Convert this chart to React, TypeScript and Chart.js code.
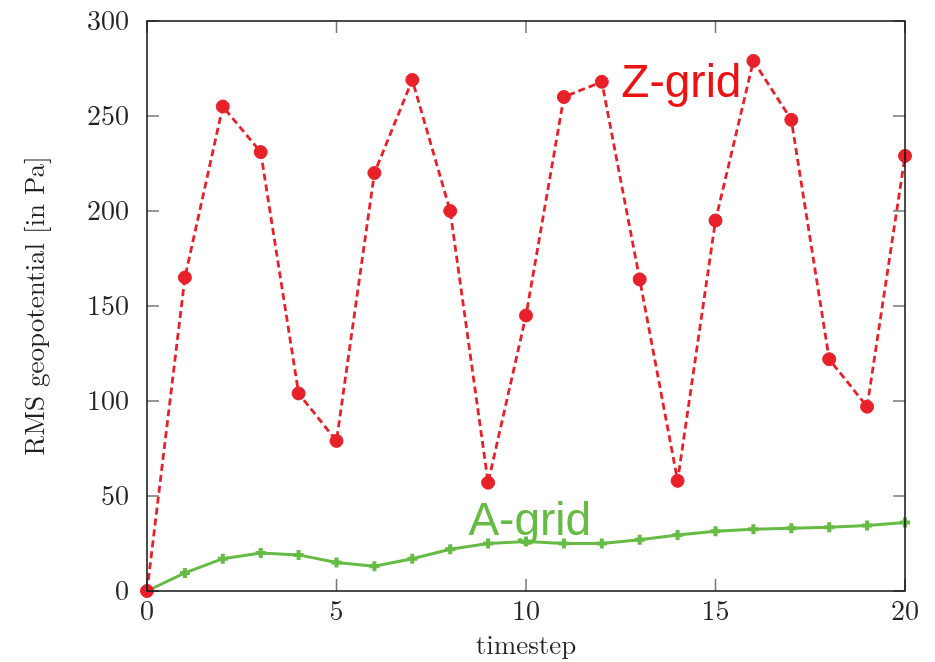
import React, { useEffect, useRef } from "react";
import { Chart, registerables } from "chart.js";

Chart.register(...registerables);

const timesteps = [0, 1, 2, 3, 4, 5, 6, 7, 8, 9, 10, 11, 12, 13, 14, 15, 16, 17, 18, 19, 20];
const zGrid = [0, 165, 255, 231, 104, 79, 220, 269, 200, 57, 145, 260, 268, 164, 58, 195, 279, 248, 122, 97, 229];
const aGrid = [0, 9.5, 17, 20, 19, 15, 13, 17, 22, 25, 26, 25, 25, 27, 29.5, 31.5, 32.5, 33, 33.5, 34.5, 36];
const xTicks = [0, 5, 10, 15, 20];
const yTicks = [0, 50, 100, 150, 200, 250, 300];

const RED = "#e8202a";
const GREEN = "#66bb44";
const SERIF = "'Latin Modern Roman', 'DejaVu Serif', 'Liberation Serif', serif";

// Inward tick marks on all four sides, plus the frame around the plot area.
const frameTicks = {
  id: "frameTicks",
  afterDraw(chart: any) {
    const { ctx, chartArea: a, scales } = chart;
    const x = scales.x;
    const y = scales.y;
    const len = 12;
    ctx.save();
    ctx.lineWidth = 1.5;
    ctx.strokeStyle = "#777";
    ctx.beginPath();
    for (const t of xTicks) {
      const px = x.getPixelForValue(t);
      ctx.moveTo(px, a.bottom);
      ctx.lineTo(px, a.bottom - len);
      ctx.moveTo(px, a.top);
      ctx.lineTo(px, a.top + len);
    }
    for (const t of yTicks) {
      const py = y.getPixelForValue(t);
      ctx.moveTo(a.left, py);
      ctx.lineTo(a.left + len, py);
      ctx.moveTo(a.right, py);
      ctx.lineTo(a.right - len, py);
    }
    ctx.stroke();
    ctx.strokeStyle = "#111";
    ctx.lineWidth = 1.5;
    ctx.strokeRect(a.left, a.top, a.right - a.left, a.bottom - a.top);
    ctx.restore();
  },
};

// Series names written next to their curves.
const seriesLabels = {
  id: "seriesLabels",
  afterDatasetsDraw(chart: any) {
    const { ctx, scales } = chart;
    ctx.save();
    ctx.font = "46px 'Liberation Sans', Arial, sans-serif";
    ctx.textAlign = "center";
    ctx.textBaseline = "alphabetic";
    ctx.fillStyle = "#ee1111";
    ctx.fillText("Z-grid", scales.x.getPixelForValue(14.1), scales.y.getPixelForValue(260));
    ctx.fillStyle = GREEN;
    ctx.fillText("A-grid", scales.x.getPixelForValue(10.1), scales.y.getPixelForValue(29.5));
    ctx.restore();
  },
};

export default function App() {
  const ref = useRef<HTMLCanvasElement | null>(null);

  useEffect(() => {
    document.body.style.margin = "0";
    const chart = new Chart(ref.current!, {
      type: "line",
      data: {
        datasets: [
          {
            label: "Z-grid",
            data: timesteps.map((t, i) => ({ x: t, y: zGrid[i] })),
            borderColor: RED,
            backgroundColor: RED,
            borderWidth: 2.8,
            borderDash: [7, 4],
            pointRadius: 6.5,
            pointBorderWidth: 1,
            pointBorderColor: RED,
            pointBackgroundColor: RED,
            tension: 0,
            clip: false,
            order: 0,
          },
          {
            label: "A-grid",
            data: timesteps.map((t, i) => ({ x: t, y: aGrid[i] })),
            borderColor: GREEN,
            backgroundColor: GREEN,
            borderWidth: 3,
            pointStyle: "cross",
            pointRadius: 5,
            pointBorderWidth: 4,
            pointBorderColor: GREEN,
            tension: 0,
            clip: false,
            order: 1,
          },
        ],
      },
      options: {
        animation: false,
        responsive: false,
        layout: { padding: { top: 21, right: 30, left: 0, bottom: 0 } },
        plugins: { legend: { display: false }, tooltip: { enabled: false } },
        scales: {
          x: {
            type: "linear",
            min: 0,
            max: 20,
            afterBuildTicks: (s: any) => {
              s.ticks = xTicks.map((v) => ({ value: v }));
            },
            afterFit: (s: any) => {
              s.height = 71;
              s.paddingLeft = 0;
              s.paddingRight = 0;
            },
            grid: { display: false, drawTicks: false },
            border: { display: false },
            ticks: { color: "#222", font: { family: SERIF, size: 28 }, padding: 4 },
            title: {
              display: true,
              text: "timestep",
              color: "#222",
              font: { family: SERIF, size: 27 },
              padding: { top: 0, bottom: 0 },
            },
          },
          y: {
            type: "linear",
            min: 0,
            max: 300,
            afterBuildTicks: (s: any) => {
              s.ticks = yTicks.map((v) => ({ value: v }));
            },
            afterFit: (s: any) => {
              s.width = 147;
              s.paddingTop = 0;
              s.paddingBottom = 0;
            },
            grid: { display: false, drawTicks: false },
            border: { display: false },
            ticks: { color: "#222", font: { family: SERIF, size: 28 }, padding: 18 },
            title: {
              display: true,
              text: "RMS geopotential [in Pa]",
              color: "#222",
              font: { family: SERIF, size: 27 },
              padding: { top: 20, bottom: 0 },
            },
          },
        },
      },
      plugins: [frameTicks, seriesLabels],
    });
    return () => chart.destroy();
  }, []);

  return (
    <div style={{ position: "absolute", left: 0, top: 0, width: 935, height: 662 }}>
      <canvas ref={ref} width={935} height={662} style={{ display: "block" }} />
    </div>
  );
}
